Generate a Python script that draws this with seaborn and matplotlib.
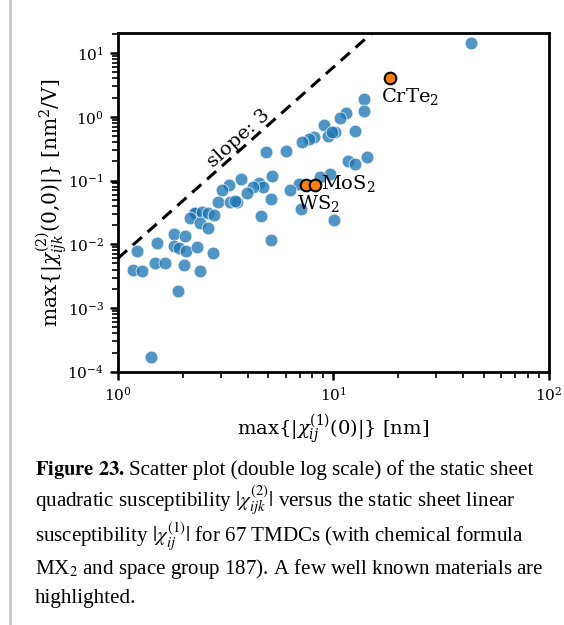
import numpy as np
import pandas as pd
import matplotlib
matplotlib.use("Agg")
import matplotlib.pyplot as plt
from matplotlib.lines import Line2D
import seaborn as sns

# ---- data ----
chi1_all = [43.4, 13.85, 13.85, 11.5, 10.7, 9.09, 12.6, 10.14, 9.41, 8.13,
            7.67, 7.12, 6.05, 4.89, 11.73, 12.56, 14.27, 9.69, 8.71, 6.90,
            6.31, 7.08, 10.03, 5.22, 5.13, 5.13, 4.63, 3.74, 4.50, 4.73,
            4.22, 3.97, 3.27, 3.05, 2.91, 3.30, 3.59, 3.50, 2.26, 2.29,
            2.16, 2.45, 2.61, 2.80, 2.40, 2.63, 1.82, 2.05, 1.52, 1.82,
            1.93, 2.08, 2.33, 2.77, 1.224, 1.489, 1.66, 2.02, 1.18, 1.294,
            2.41, 1.905, 1.43, 9.9]
chi2_all = [14.3, 1.88, 1.24, 1.14, 0.957, 0.734, 0.591, 0.577, 0.499, 0.486,
            0.456, 0.399, 0.295, 0.280, 0.202, 0.181, 0.238, 0.126, 0.115, 0.0887,
            0.0720, 0.0364, 0.0243, 0.118, 0.0510, 0.0117, 0.0275, 0.105, 0.091, 0.0787,
            0.0802, 0.0646, 0.0847, 0.0720, 0.0462, 0.0466, 0.0466, 0.047, 0.0310, 0.0310,
            0.0259, 0.0322, 0.0304, 0.0286, 0.0214, 0.0182, 0.0145, 0.0135, 0.0104, 0.0093,
            0.0087, 0.0077, 0.0092, 0.00735, 0.00785, 0.00508, 0.00508, 0.00468, 0.0039, 0.00379,
            0.00380, 0.00182, 0.000169, 0.57]

hl_names = ["WS$_2$", "MoS$_2$", "CrTe$_2$"]
hl_chi1 = [7.43, 8.26, 18.25]
hl_chi2 = [0.0862, 0.0862, 4.12]

slope = 3
line_prefactor = 0.006
x_line = [1.0, 100.0]

x_ticks = [1, 10, 100]
y_ticks = [1e-4, 1e-3, 1e-2, 1e-1, 1e0, 1e1]

# ---- style ----
sns.set_style("ticks")
plt.rcParams["font.family"] = ["DejaVu Serif"]
plt.rcParams["mathtext.fontset"] = "dejavuserif"
plt.rcParams["text.color"] = "black"
plt.rcParams["axes.labelcolor"] = "black"

fig = plt.figure(figsize=(5.64, 6.25), dpi=100)

# page border line
fig.add_artist(Line2D([0.018, 0.018], [0.0, 1.0], transform=fig.transFigure,
                      color="#c8c8c8", linewidth=2))

# caption
fs = 15.1
cap_kw = dict(fontsize=fs, family="Liberation Serif", math_fontfamily="stix",
              ha="left", va="baseline", color="black")
x0 = 35 / 564
fig.text(x0, 1 - 475 / 625, r"$\bf{Figure\ 23.}$", fontsize=fs - 0.3, math_fontfamily="stix",
         ha="left", va="baseline", color="black")
fig.text(x0 + 94 / 564, 1 - 475 / 625, "Scatter plot (double log scale) of the static sheet", **cap_kw)
fig.text(x0, 1 - 507 / 625,
         r"quadratic susceptibility $|\chi^{(2)}_{ijk}|$ versus the static sheet linear", **cap_kw)
fig.text(x0, 1 - 543 / 625,
         r"susceptibility $|\chi^{(1)}_{ij}|$ for 67 TMDCs (with chemical formula", **cap_kw)
fig.text(x0, 1 - 574 / 625,
         r"MX$_2$ and space group 187). A few well known materials are", **cap_kw)
fig.text(x0, 1 - 603 / 625, "highlighted.", **cap_kw)

ax = fig.add_axes([0.209, 0.4053, 0.764, 0.5417])

df = pd.DataFrame({"chi1": chi1_all, "chi2": chi2_all})
sns.scatterplot(data=df, x="chi1", y="chi2", ax=ax, color="#1f77b4",
                s=84, alpha=0.78, edgecolor="white", linewidth=0.6, zorder=3)

hl = pd.DataFrame({"chi1": hl_chi1, "chi2": hl_chi2, "name": hl_names})
sns.scatterplot(data=hl, x="chi1", y="chi2", ax=ax, color="#ff7f0e",
                s=70, edgecolor="black", linewidth=1.5, zorder=4)

xl = np.array(x_line)
sns.lineplot(x=xl, y=line_prefactor * xl ** slope, ax=ax, color="black",
             linestyle=(0, (4, 2.5)), linewidth=2.2, zorder=2)

# annotations
ax.text(16.6, 2.12, hl_names[2], fontsize=14, ha="left", va="center", zorder=5)
ax.text(8.81, 0.091, hl_names[1], fontsize=14, ha="left", va="center", zorder=5)
ax.text(6.75, 0.0441, hl_names[0], fontsize=14, ha="left", va="center", zorder=5)
ax.text(3.65, 0.465, "slope: 3", fontsize=14, ha="center", va="center",
        rotation=42, rotation_mode="anchor", zorder=5)

ax.set_xscale("log")
ax.set_yscale("log")
ax.set_xlim(1, 100)
ax.set_ylim(1e-4, 20.6)
ax.set_xticks(x_ticks)
ax.set_yticks(y_ticks)

for sp in ax.spines.values():
    sp.set_linewidth(2.0)
    sp.set_color("black")

ax.set_xlabel(r"$\max\{|\chi^{(1)}_{ij}(0)|\}$ [nm]", fontsize=14, labelpad=6)
ax.set_ylabel(r"$\max\{|\chi^{(2)}_{ijk}(0{,}0)|\}$ [nm$^2$/V]", fontsize=14.5, labelpad=-1.5)

ax.tick_params(which="major", direction="out", length=6, width=1.8, labelsize=11,
               colors="black", pad=4)
ax.tick_params(which="minor", direction="out", length=4, width=1.2, colors="black")

fig.canvas.draw()
fig.savefig("out.png", dpi=100)
